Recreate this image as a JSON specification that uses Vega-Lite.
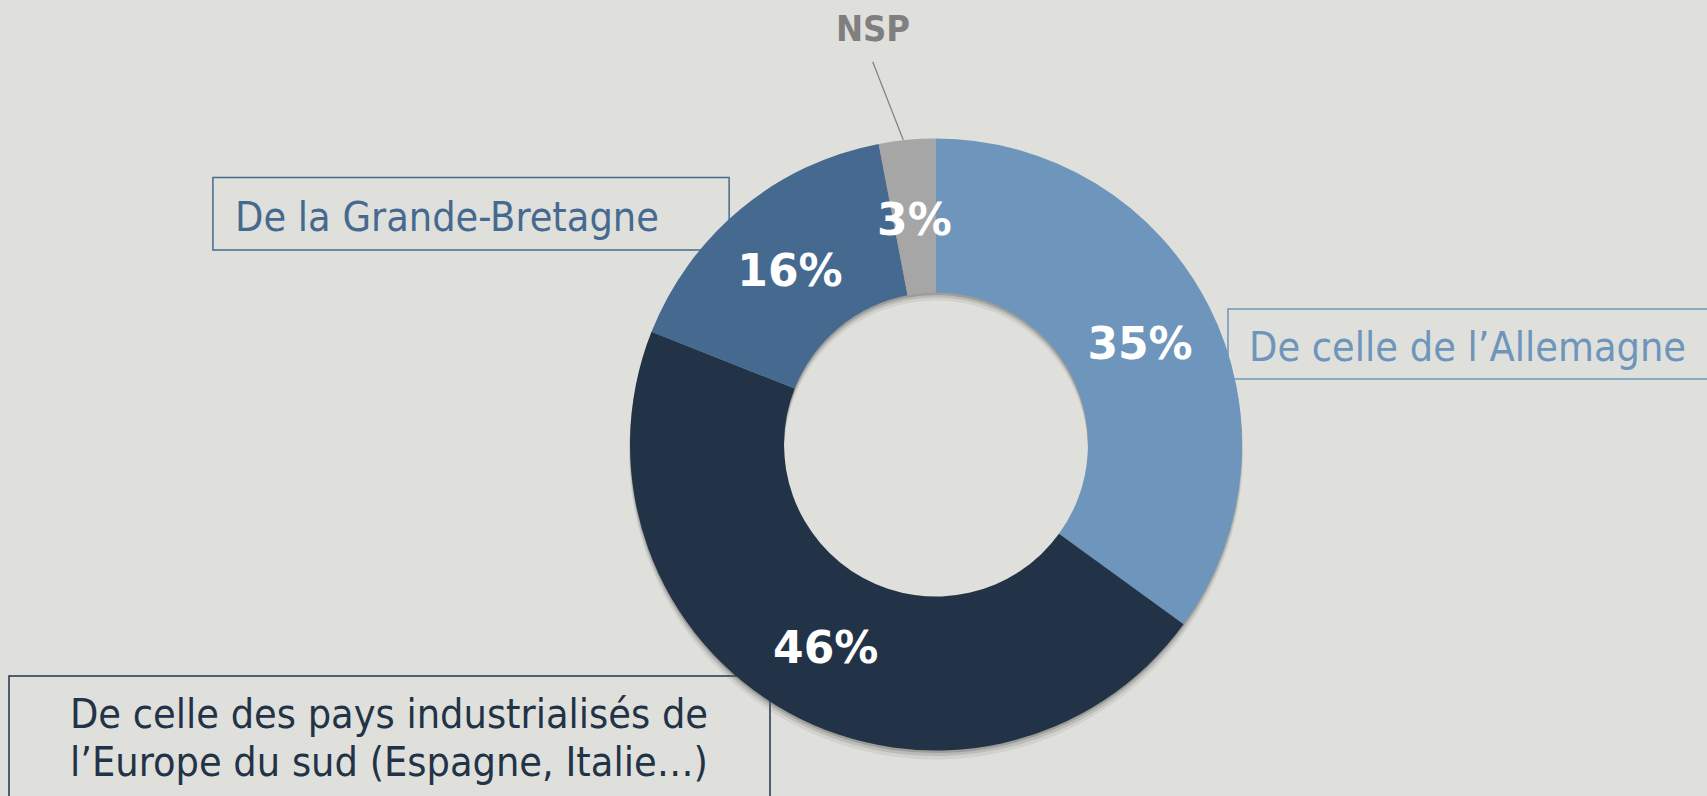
{
  "$schema": "https://vega.github.io/schema/vega-lite/v6.json",
  "width": 1542,
  "height": 703,
  "autosize": "none",
  "padding": {"left": 165, "top": 93, "right": 0, "bottom": 0},
  "background": "#DFE0DB",
  "config": {"view": {"stroke": null}},
  "datasets": {
    "reponses": [
      {"origine": "De celle de l’Allemagne", "part": 0.35, "ordre": 1},
      {"origine": "De celle des pays industrialisés de l’Europe du sud (Espagne, Italie…)", "part": 0.46, "ordre": 2},
      {"origine": "De la Grande-Bretagne", "part": 0.16, "ordre": 3},
      {"origine": "NSP", "part": 0.03, "ordre": 4}
    ]
  },
  "data": {"name": "reponses"},
  "layer": [
    {
      "data": {"values": [{}]},
      "mark": {"type": "rect", "fillOpacity": 0, "stroke": "#466A8F", "strokeWidth": 1.5},
      "encoding": {
        "x": {"datum": -2.363, "type": "quantitative", "scale": {"domain": [-2.51961, 2.51961], "nice": false, "zero": false}, "axis": null},
        "x2": {"datum": -0.676},
        "y": {"datum": 0.8725, "type": "quantitative", "scale": {"domain": [-1.14869, 1.14869], "nice": false, "zero": false}, "axis": null},
        "y2": {"datum": 0.6356}
      }
    },
    {
      "data": {"values": [{}]},
      "mark": {"type": "rect", "fillOpacity": 0, "stroke": "#6E95BB", "strokeWidth": 1.5},
      "encoding": {
        "x": {"datum": 0.9542, "type": "quantitative"},
        "x2": {"datum": 2.562},
        "y": {"datum": 0.4428, "type": "quantitative"},
        "y2": {"datum": 0.2141}
      }
    },
    {
      "data": {"values": [{}]},
      "mark": {"type": "rect", "fillOpacity": 0, "stroke": "#233347", "strokeWidth": 1.5},
      "encoding": {
        "x": {"datum": -3.0294, "type": "quantitative"},
        "x2": {"datum": -0.5425},
        "y": {"datum": -0.7565, "type": "quantitative"},
        "y2": {"datum": -1.1944}
      }
    },
    {
      "data": {"values": [{}]},
      "mark": {"type": "rule", "stroke": "#7F7F7F", "strokeWidth": 1.2},
      "encoding": {
        "x": {"datum": -0.2069, "type": "quantitative"},
        "x2": {"datum": -0.1069},
        "y": {"datum": 1.2510, "type": "quantitative"},
        "y2": {"datum": 0.9951}
      }
    },
    {
      "mark": {"type": "arc", "innerRadius": 152, "outerRadius": 307, "yOffset": 8, "fill": "#5A5A55", "opacity": 0.1},
      "encoding": {
        "theta": {"field": "part", "type": "quantitative", "stack": true},
        "order": {"field": "ordre", "type": "quantitative"}
      }
    },
    {
      "mark": {"type": "arc", "innerRadius": 152, "outerRadius": 306.5, "yOffset": 5, "fill": "#5A5A55", "opacity": 0.18},
      "encoding": {
        "theta": {"field": "part", "type": "quantitative", "stack": true},
        "order": {"field": "ordre", "type": "quantitative"}
      }
    },
    {
      "mark": {"type": "arc", "innerRadius": 152, "outerRadius": 306, "yOffset": 2.5, "fill": "#5A5A55", "opacity": 0.3},
      "encoding": {
        "theta": {"field": "part", "type": "quantitative", "stack": true},
        "order": {"field": "ordre", "type": "quantitative"}
      }
    },
    {
      "mark": {"type": "arc", "innerRadius": 152, "outerRadius": 306},
      "encoding": {
        "theta": {"field": "part", "type": "quantitative", "stack": true},
        "order": {"field": "ordre", "type": "quantitative"},
        "color": {
          "field": "origine",
          "type": "nominal",
          "scale": {
            "domain": ["De celle de l’Allemagne", "De celle des pays industrialisés de l’Europe du sud (Espagne, Italie…)", "De la Grande-Bretagne", "NSP"],
            "range": ["#6E95BB", "#233347", "#466A8F", "#A6A6A6"]
          },
          "legend": null
        }
      }
    },
    {
      "mark": {"type": "text", "radius": 229, "dy": 5, "font": "DejaVu Sans", "fontWeight": "bold", "fontSize": 44, "fill": "#FFFFFF", "align": "center", "baseline": "middle"},
      "encoding": {
        "theta": {"field": "part", "type": "quantitative", "stack": true},
        "order": {"field": "ordre", "type": "quantitative"},
        "text": {"field": "part", "type": "quantitative", "format": ".0%"}
      }
    },
    {
      "data": {"values": [{}]},
      "mark": {"type": "text", "text": "De la Grande-Bretagne", "font": "DejaVu Sans Condensed", "fontSize": 41, "fill": "#466A8F", "align": "left", "baseline": "alphabetic"},
      "encoding": {
        "x": {"datum": -2.2908, "type": "quantitative"},
        "y": {"datum": 0.698, "type": "quantitative"}
      }
    },
    {
      "data": {"values": [{}]},
      "mark": {"type": "text", "text": "De celle de l’Allemagne", "font": "DejaVu Sans Condensed", "fontSize": 41, "fill": "#6E95BB", "align": "left", "baseline": "alphabetic"},
      "encoding": {
        "x": {"datum": 1.0229, "type": "quantitative"},
        "y": {"datum": 0.2729, "type": "quantitative"}
      }
    },
    {
      "data": {"values": [{}]},
      "mark": {"type": "text", "text": ["De celle des pays industrialisés de", "l’Europe du sud (Espagne, Italie…)"], "lineHeight": 48, "font": "DejaVu Sans Condensed", "fontSize": 41, "fill": "#233347", "align": "center", "baseline": "alphabetic"},
      "encoding": {
        "x": {"datum": -1.7876, "type": "quantitative"},
        "y": {"datum": -0.9274, "type": "quantitative"}
      }
    },
    {
      "data": {"values": [{}]},
      "mark": {"type": "text", "text": "NSP", "font": "DejaVu Sans Condensed", "fontWeight": "bold", "fontSize": 36, "fill": "#7F7F7F", "align": "center", "baseline": "alphabetic"},
      "encoding": {
        "x": {"datum": -0.2059, "type": "quantitative"},
        "y": {"datum": 1.3183, "type": "quantitative"}
      }
    }
  ]
}
